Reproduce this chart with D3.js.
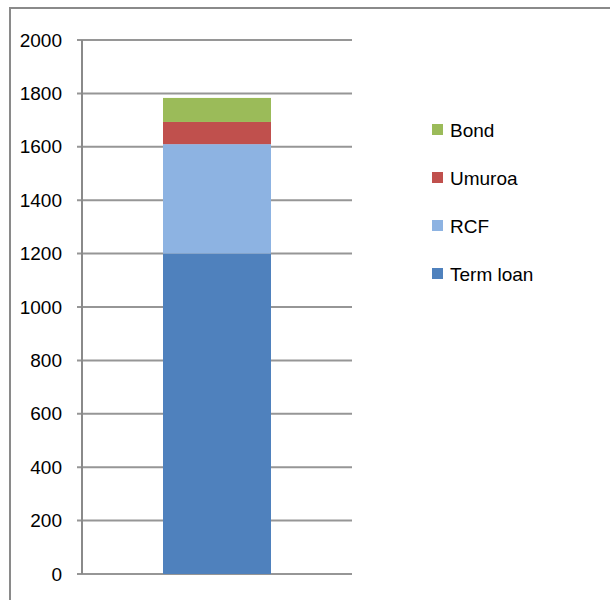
<!DOCTYPE html>
<html><head><meta charset="utf-8">
<script src="https://cdn.jsdelivr.net/npm/d3@7"></script>
<style>body{margin:0;background:#fff}svg{display:block}</style>
</head><body>
<script>
const categories = ["Total"];
const seriesNames = ["Term loan", "RCF", "Umuroa", "Bond"];
const termLoan = [1200];
const rcf = [410];
const umuroa = [83];
const bond = [90];
const colors = ["#4f81bd", "#8db3e2", "#c0504d", "#9bbb59"];
const yTicks = [0, 200, 400, 600, 800, 1000, 1200, 1400, 1600, 1800, 2000];

const W = 610, H = 600;
const svg = d3.select("body").append("svg").attr("width", W).attr("height", H);
svg.append("rect").attr("x", 10).attr("y", 8).attr("width", 620).attr("height", 620)
  .attr("fill", "#fff").attr("stroke", "#8a8a8a").attr("stroke-width", 2);

const plot = {left: 82, right: 352, top: 40, bottom: 574};
const y = d3.scaleLinear().domain([0, 2000]).range([plot.bottom, plot.top]);
const x = d3.scaleBand().domain(categories).range([plot.left, plot.right]).paddingInner(0.6).paddingOuter(0.3);

// gridlines
svg.append("g").selectAll("line").data(yTicks).join("line")
  .attr("x1", plot.left - 5).attr("x2", plot.right)
  .attr("y1", d => y(d)).attr("y2", d => y(d))
  .attr("stroke", "#969696").attr("stroke-width", 2);

// bars
const rows = categories.map((c, i) => ({cat: c, "Term loan": termLoan[i], "RCF": rcf[i], "Umuroa": umuroa[i], "Bond": bond[i]}));
const stack = d3.stack().keys(seriesNames)(rows);
svg.append("g").selectAll("g").data(stack).join("g")
  .attr("fill", (d, i) => colors[i])
  .selectAll("rect").data(d => d).join("rect")
  .attr("x", d => x(d.data.cat)).attr("width", x.bandwidth())
  .attr("y", d => y(d[1])).attr("height", d => y(d[0]) - y(d[1]));

// y axis
const yAxis = d3.axisLeft(y).tickValues(yTicks).tickSize(5).tickPadding(15).tickFormat(d3.format("d"));
const ga = svg.append("g").attr("transform", `translate(${plot.left},0)`).call(yAxis);
ga.select(".domain").attr("stroke", "#8a8a8a").attr("stroke-width", 2).attr("d", `M0,${plot.top}V${plot.bottom}`);
ga.selectAll(".tick line").remove();
ga.selectAll("text").attr("font-family", "Liberation Sans, Arial, sans-serif").attr("font-size", 19).attr("fill", "#000");

// legend
const legendOrder = ["Bond", "Umuroa", "RCF", "Term loan"];
const lg = svg.append("g").selectAll("g").data(legendOrder).join("g")
  .attr("transform", (d, i) => `translate(432,${130 + i * 48})`);
lg.append("rect").attr("x", 0).attr("y", -6).attr("width", 11).attr("height", 11)
  .attr("fill", d => colors[seriesNames.indexOf(d)]);
lg.append("text").attr("x", 18).attr("y", 0).attr("dy", "0.35em")
  .attr("font-family", "Liberation Sans, Arial, sans-serif").attr("font-size", 19).attr("fill", "#000")
  .text(d => d);
</script>
</body></html>
